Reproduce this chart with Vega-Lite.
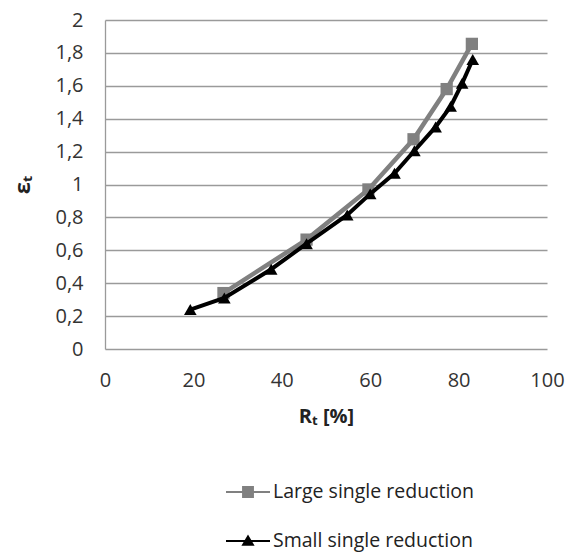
{
  "$schema": "https://vega.github.io/schema/vega-lite/v6.json",
  "width": 442,
  "height": 329,
  "autosize": {"type": "none"},
  "padding": {"left": 105, "top": 20, "right": 22, "bottom": 204},
  "background": "white",
  "config": {
    "view": {"stroke": null},
    "font": "Open Sans",
    "axis": {"labelFont": "Open Sans", "titleFont": "Open Sans", "labelColor": "#333333", "titleColor": "#222222"}
  },
  "data": {
    "values": [
      {"series": "Large single reduction", "R": 26.8, "e": 0.34},
      {"series": "Large single reduction", "R": 45.6, "e": 0.665},
      {"series": "Large single reduction", "R": 59.6, "e": 0.97},
      {"series": "Large single reduction", "R": 69.8, "e": 1.275},
      {"series": "Large single reduction", "R": 77.3, "e": 1.58},
      {"series": "Large single reduction", "R": 83.0, "e": 1.855},
      {"series": "Small single reduction", "R": 19.3, "e": 0.24},
      {"series": "Small single reduction", "R": 27.0, "e": 0.31},
      {"series": "Small single reduction", "R": 37.6, "e": 0.485},
      {"series": "Small single reduction", "R": 45.6, "e": 0.64},
      {"series": "Small single reduction", "R": 54.8, "e": 0.815},
      {"series": "Small single reduction", "R": 60.0, "e": 0.943},
      {"series": "Small single reduction", "R": 65.5, "e": 1.068},
      {"series": "Small single reduction", "R": 70.0, "e": 1.205},
      {"series": "Small single reduction", "R": 74.8, "e": 1.35},
      {"series": "Small single reduction", "R": 78.2, "e": 1.475},
      {"series": "Small single reduction", "R": 80.8, "e": 1.615},
      {"series": "Small single reduction", "R": 83.2, "e": 1.76}
    ]
  },
  "encoding": {
    "x": {
      "field": "R", "type": "quantitative",
      "scale": {"domain": [0, 100], "nice": false, "zero": true},
      "axis": {
        "title": "Rₜ [%]", "values": [0, 20, 40, 60, 80, 100],
        "grid": false, "domain": false, "ticks": false, "labelFlush": false,
        "labelFontSize": 20, "labelPadding": 21,
        "titleFontSize": 20, "titleFontWeight": "bold", "titlePadding": 16
      }
    },
    "y": {
      "field": "e", "type": "quantitative",
      "scale": {"domain": [0, 2], "nice": false},
      "axis": {
        "title": "εₜ", "values": [0, 0.2, 0.4, 0.6, 0.8, 1, 1.2, 1.4, 1.6, 1.8, 2],
        "format": ".1~f", "labelExpr": "replace(datum.label, '.', ',')",
        "grid": true, "gridColor": "#9a9a9a", "gridWidth": 1.3,
        "domain": true, "domainColor": "#9a9a9a", "domainWidth": 1.3,
        "ticks": false, "labelFlush": false,
        "labelFontSize": 20, "labelPadding": 22,
        "titleFontSize": 22, "titleFontWeight": "bold", "titlePadding": 20
      }
    },
    "color": {
      "field": "series", "type": "nominal",
      "scale": {"domain": ["Large single reduction", "Small single reduction"], "range": ["#808080", "#000000"]},
      "legend": {
        "title": null, "orient": "none", "direction": "vertical",
        "legendX": 121, "legendY": 450,
        "labelFontSize": 19.5, "labelColor": "#222222", "labelFont": "Open Sans", "labelLimit": 0,
        "symbolSize": 1936, "symbolStrokeWidth": 0, "labelOffset": 3, "rowPadding": 17,
        "encode": {
          "symbols": {
            "update": {
              "shape": {"signal": "datum.value === 'Large single reduction' ? 'M-1,-0.045L1,-0.045L1,0.045L-1,0.045Z M-0.27,-0.27L0.27,-0.27L0.27,0.27L-0.27,0.27Z' : 'M-1,-0.045L1,-0.045L1,0.045L-1,0.045Z M0,-0.3L0.3,0.22L-0.3,0.22Z'"},
              "fill": {"signal": "datum.value === 'Large single reduction' ? '#808080' : '#000000'"},
              "opacity": {"value": 1}
            }
          }
        }
      }
    }
  },
  "layer": [
    {
      "transform": [{"filter": "datum.series === 'Large single reduction'"}],
      "mark": {"type": "line", "strokeWidth": 4.5}
    },
    {
      "transform": [{"filter": "datum.series === 'Large single reduction'"}],
      "mark": {"type": "point", "shape": "square", "filled": true, "size": 150, "opacity": 1}
    },
    {
      "transform": [{"filter": "datum.series === 'Small single reduction'"}],
      "mark": {"type": "line", "strokeWidth": 4}
    },
    {
      "transform": [{"filter": "datum.series === 'Small single reduction'"}],
      "mark": {"type": "point", "shape": "triangle-up", "filled": true, "size": 160, "opacity": 1}
    }
  ]
}
